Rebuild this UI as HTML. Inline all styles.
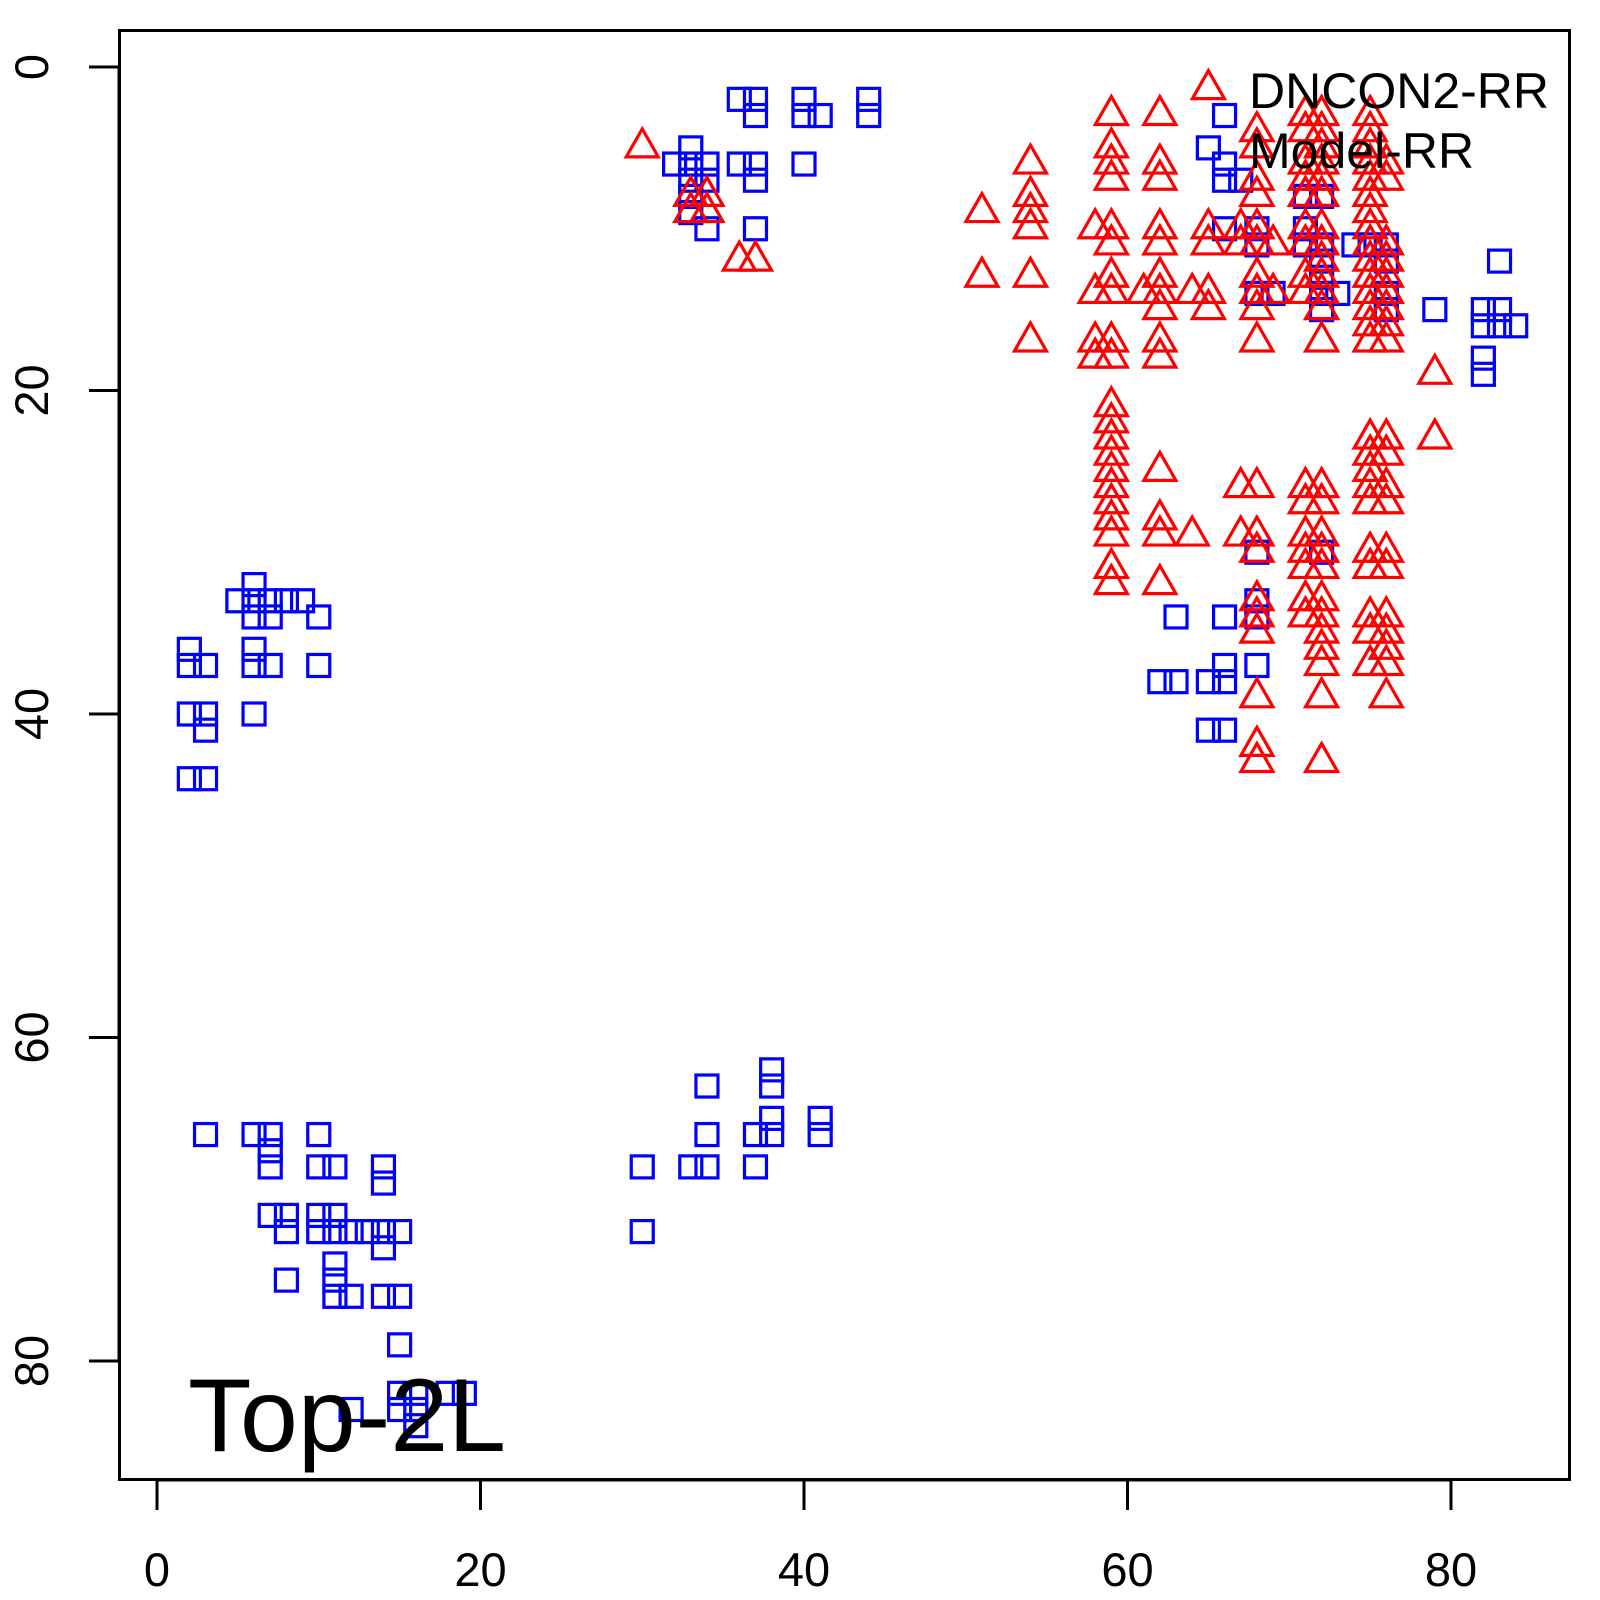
<!DOCTYPE html>
<html><head><meta charset="utf-8"><style>html,body{margin:0;padding:0;background:#fff}svg{display:block}</style></head>
<body>
<svg id="s" width="1600" height="1600" viewBox="0 0 1600 1600" xmlns="http://www.w3.org/2000/svg" font-family="Liberation Sans, sans-serif">
<rect x="119.5" y="30.5" width="1450" height="1449" fill="none" stroke="#000" stroke-width="3"/>
<g stroke="#000" stroke-width="3">
<line x1="157" y1="1480" x2="1451" y2="1480"/>
<line x1="157" y1="1480" x2="157" y2="1510"/><line x1="480.5" y1="1480" x2="480.5" y2="1510"/><line x1="804" y1="1480" x2="804" y2="1510"/><line x1="1127.5" y1="1480" x2="1127.5" y2="1510"/><line x1="1451" y1="1480" x2="1451" y2="1510"/>
<line x1="119" y1="67" x2="119" y2="1361"/>
<line x1="89" y1="67" x2="119" y2="67"/><line x1="89" y1="390.5" x2="119" y2="390.5"/><line x1="89" y1="714" x2="119" y2="714"/><line x1="89" y1="1037.5" x2="119" y2="1037.5"/><line x1="89" y1="1361" x2="119" y2="1361"/>
</g>
<g font-size="47" text-anchor="middle" fill="#000">
<text x="157" y="1586">0</text><text x="480.5" y="1586">20</text><text x="804" y="1586">40</text><text x="1127.5" y="1586">60</text><text x="1451" y="1586">80</text>
<text transform="translate(48,67) rotate(-90)">0</text>
<text transform="translate(48,390.5) rotate(-90)">20</text>
<text transform="translate(48,714) rotate(-90)">40</text>
<text transform="translate(48,1037.5) rotate(-90)">60</text>
<text transform="translate(48,1361) rotate(-90)">80</text>
</g>
<g id="m" fill="none" stroke-width="3.2"></g>
<text x="1249" y="108" font-size="50">DNCON2-RR</text>
<text x="1249" y="168" font-size="50">Model-RR</text>
<text x="188" y="1451" font-size="104">Top-2L</text>
</svg>
<script>
var g=document.getElementById('m'),h='';
function X(x){return 157+16.175*x}function Y(y){return 67+16.175*y}
var blue=[[2,36],[2,37],[3,37],[2,40],[3,40],[3,41],[2,44],[3,44],[6,32],[5,33],[6,33],[7,33],[8,33],[9,33],[6,34],[7,34],[10,34],[6,36],[6,37],[7,37],[10,37],[6,40],
[3,66],[6,66],[7,66],[10,66],[7,67],[7,68],[10,68],[11,68],[14,68],[14,69],[7,71],[8,71],[10,71],[11,71],[8,72],[10,72],[11,72],[12,72],[13,72],[14,72],[15,72],[14,73],[11,74],[11,75],[8,75],[11,76],[12,76],[14,76],[15,76],[15,79],[15,82],[16,82],[18,82],[19,82],[12,83],[15,83],[16,83],[16,84],
[38,62],[38,63],[34,63],[38,65],[41,65],[34,66],[37,66],[38,66],[41,66],[30,68],[33,68],[34,68],[37,68],[30,72],
[36,2],[37,2],[40,2],[44,2],[37,3],[40,3],[41,3],[44,3],[33,5],[32,6],[33,6],[34,6],[36,6],[37,6],[40,6],[33,7],[34,7],[37,7],[33,8],[33,9],[34,10],[37,10],
[66,3],[65,5],[66,6],[66,7],[67,7],[66,10],[68,10],[68,11],[71,10],[71,11],[71,8],[72,8],[72,11],[72,12],[72,13],[72,14],[72,15],[73,14],[74,11],[75,11],[76,11],[76,12],[76,14],[76,15],[68,14],[69,14],[79,15],[82,15],[83,15],[82,16],[83,16],[84,16],[83,12],[82,18],[82,19],
[68,30],[72,30],[68,33],[68,34],[63,34],[66,34],[66,37],[68,37],[62,38],[63,38],[65,38],[66,38],[65,41],[66,41]];
var red=[[30,5],[33,8],[34,8],[33,9],[34,9],[36,12],[37,12],[65,1.4]];
var cols={51:[9,13],54:[6,8,9,10,13,17],58:[10,14,17,18],59:[3,5,6,7,10,11,13,14,17,18,21,22,23,24,25,26,27,28,29,31,32],61:[14],
62:[3,6,7,10,11,13,14,15,17,18,25,28,29,32],64:[14,29],65:[10,11,14,15],67:[10,11,26,29],
68:[4,5,7,8,10,11,13,14,15,17,26,29,30,33,34,35,39,42,43],69:[11,14],71:[3,4,6,7,8,10,11,13,14,26,27,29,30,31,33,34],
72:[3,4,5,6,7,8,10,11,12,13,14,15,17,26,27,29,30,31,33,34,35,36,37,39,43],
75:[3,4,5,6,7,8,9,10,11,12,13,14,15,16,17,23,24,25,26,27,30,31,34,35,37],
76:[6,7,11,12,13,14,15,16,17,23,24,26,27,30,31,34,35,36,37,39],79:[19,23]};
for(var k in cols)cols[k].forEach(function(y){red.push([+k,y])});
blue.forEach(function(p){var x=X(p[0]),y=Y(p[1]);h+='<rect x="'+(x-11)+'" y="'+(y-11)+'" width="22" height="22" stroke="#0000ff"/>'});
red.forEach(function(p){var x=X(p[0]),y=Y(p[1]);h+='<polygon points="'+x+','+(y-19)+' '+(x-16)+','+(y+9)+' '+(x+16)+','+(y+9)+'" stroke="#ff0000"/>'});
g.innerHTML=h;
</script>
</body></html>
